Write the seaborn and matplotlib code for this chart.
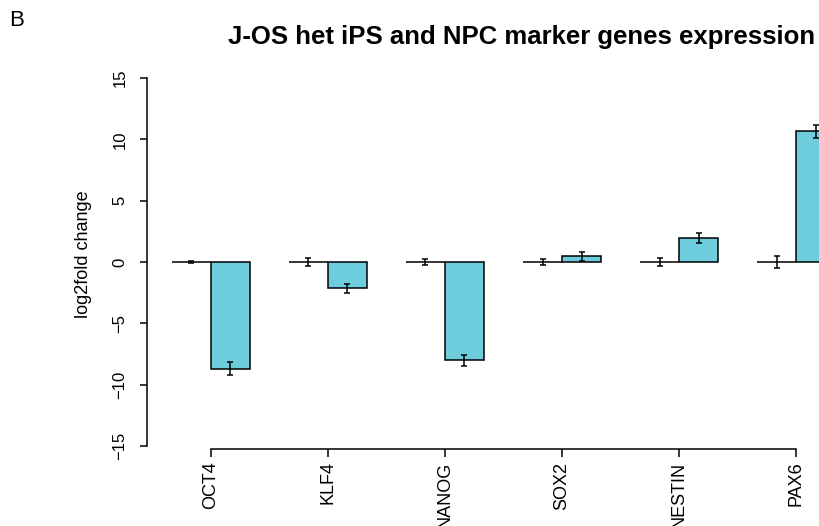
import numpy as np
import pandas as pd
import matplotlib
matplotlib.use("Agg")
import matplotlib.pyplot as plt
import seaborn as sns

genes = ["OCT4", "KLF4", "NANOG", "SOX2", "NESTIN", "PAX6"]
groups = ["control", "J-OS het"]
control_vals = [0, 0, 0, 0, 0, 0]
control_err = [0.05, 0.3, 0.23, 0.28, 0.3, 0.5]
het_vals = [-8.7, -2.15, -8.0, 0.45, 1.93, 10.65]
het_err = [0.55, 0.35, 0.45, 0.35, 0.4, 0.55]
yticks = [-15, -10, -5, 0, 5, 10, 15]
title = "J-OS het iPS and NPC marker genes expression"
ylabel = "log2fold change"

df = pd.DataFrame({
    "gene": genes * 2,
    "group": [groups[0]] * len(genes) + [groups[1]] * len(genes),
    "value": control_vals + het_vals,
})

sns.set_theme(style="white")
plt.rcParams["font.family"] = ["Liberation Sans", "DejaVu Sans"]
plt.rcParams["text.color"] = "black"

W, H = 820, 526
fig = plt.figure(figsize=(W / 100, H / 100), dpi=100)
ax = fig.add_axes([147 / W, (H - 449) / H, (860 - 147) / W, (449 - 72) / H])

sns.barplot(data=df, x="gene", y="value", hue="group", order=genes, hue_order=groups,
            palette={"control": "white", "J-OS het": "#6dcddc"}, saturation=1,
            width=2 / 3, gap=0, edgecolor="black", linewidth=1.1, errorbar=None,
            legend=False, ax=ax)

for cont, vals, errs in zip(ax.containers, [control_vals, het_vals], [control_err, het_err]):
    xs = [p.get_x() + p.get_width() / 2 for p in cont.patches]
    ax.errorbar(xs, vals, yerr=errs, fmt="none", ecolor="black", elinewidth=1.1,
                capsize=2.2, capthick=1.1, zorder=5)

ax.set_xlim(-0.547, 5.547)
ax.set_ylim(-15.245, 15.489)
ax.set_xlabel("")
ax.set_ylabel("")

for s in ["top", "right"]:
    ax.spines[s].set_visible(False)
for s in ["left", "bottom"]:
    ax.spines[s].set_color("black")
    ax.spines[s].set_linewidth(1.1)
ax.spines["left"].set_bounds(-15, 15)
ax.spines["bottom"].set_bounds(0, len(genes) - 1)

ax.set_yticks(yticks)
ax.set_yticklabels([f"{v}".replace("-", "\u2212") for v in yticks], rotation=90, va="center")
ax.tick_params(axis="y", length=5, width=1.1, pad=9, labelsize=12, colors="black",
               labelcolor="black", left=True, direction="out")
ax.set_xticks(range(len(genes)))
ax.set_xticklabels(genes, rotation=90, ha="center", va="top")
ax.tick_params(axis="x", length=6, width=1.1, pad=3, labelsize=13, colors="black",
               labelcolor="black", bottom=True, direction="out")

fig.text(84 / W, 1 - 254 / H, ylabel, rotation=90, ha="center", va="center", fontsize=13)
fig.text(522 / W, 1 - 37 / H, title, ha="center", va="center", fontsize=18.5, fontweight="bold")
fig.text(9 / W, 1 - 21 / H, "B", ha="left", va="center", fontsize=16)

fig.savefig("out.png", dpi=100, facecolor="white")
